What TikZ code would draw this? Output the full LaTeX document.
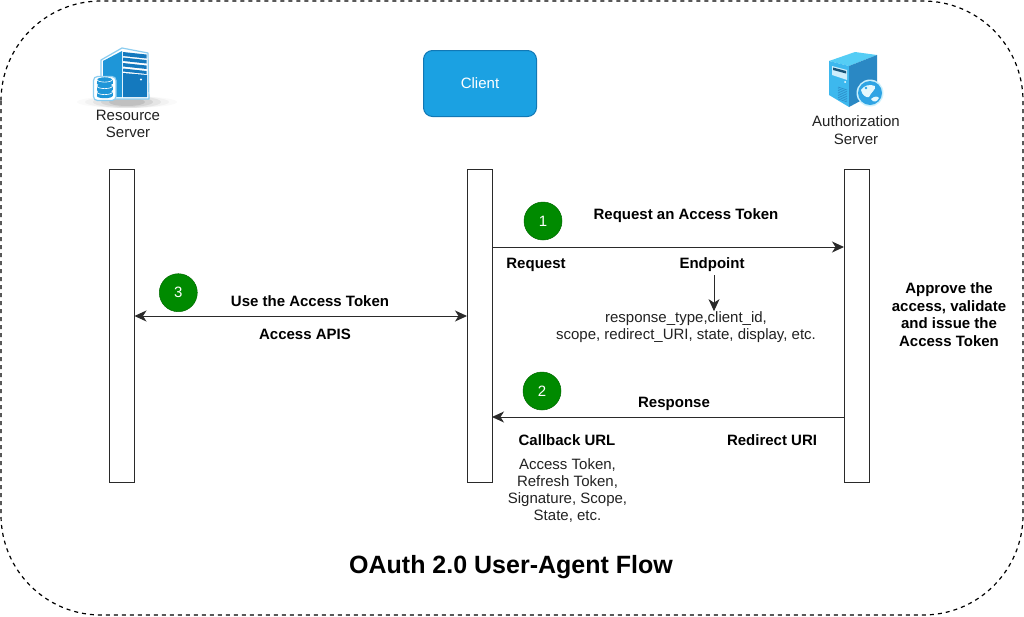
\documentclass[tikz,border=0pt]{standalone}
\usepackage{fontspec}
\setmainfont{Liberation Sans}
\usetikzlibrary{arrows.meta,shadings}
\definecolor{clientblue}{HTML}{1BA1E2}
\definecolor{clientedge}{HTML}{1178B5}
\definecolor{stepgreen}{HTML}{008A00}
\definecolor{stepedge}{HTML}{006A00}
\definecolor{inkgrey}{HTML}{222222}
\definecolor{linegrey}{HTML}{2A2A2A}
\definecolor{srvlight}{HTML}{55CDF5}
\definecolor{srvfront}{HTML}{3DB8EE}
\definecolor{srvdark}{HTML}{2A88C4}
\definecolor{globe}{HTML}{2FA4E4}
\definecolor{resblue}{HTML}{1E96D8}
\definecolor{resdark}{HTML}{1479BE}
\definecolor{resedge}{HTML}{8CCDF0}
\tikzset{
  lifeline/.style={draw=linegrey,line width=1pt,fill=white,minimum width=25pt,minimum height=313pt,inner sep=0pt,outer sep=0pt},
  flow/.style={draw=linegrey,line width=1pt,-{Stealth[length=12pt,width=11pt,inset=3.5pt]}},
  flowboth/.style={draw=linegrey,line width=1pt,{Stealth[length=12pt,width=11pt,inset=3.5pt]}-{Stealth[length=12pt,width=11pt,inset=3.5pt]}},
  stepdot/.style={circle,draw=stepedge,line width=.5pt,fill=stepgreen,minimum size=38pt,inner sep=0pt,text=white,font=\fontsize{15}{17}\selectfont},
  boldlabel/.style={font=\fontsize{15}{17.5}\bfseries\selectfont,text=black,align=center,inner sep=0pt},
  plainlabel/.style={font=\fontsize{15}{17.3}\selectfont,text=inkgrey,align=center,inner sep=0pt},
}
\begin{document}
\begin{tikzpicture}[x=1pt,y=-1pt]
\useasboundingbox (0,0) rectangle (1024,616);
\fill[white] (0,0) rectangle (1024,616);
\draw[black,line width=1.2pt,dash pattern=on 4pt off 4pt,rounded corners=100pt] (1,1) rectangle (1023,615);

% Resource server icon
\begin{scope}
  \foreach \rx/\ry/\op in {50/6/.02,42/6/.03,34/6/.05,26/5/.07,18/4/.09}{
    \fill[black,opacity=\op] (127,102) ellipse [x radius=\rx,y radius=\ry];
  }
  \fill[white] (101,60) -- (122,48) -- (148,53) -- (149,99) -- (101,99) -- cycle;
  \draw[resedge,line width=1.2pt,line join=round] (101,60) -- (122,48) -- (148,53) -- (149,99) -- (101,99) -- cycle;
  \fill[resblue] (103,61) -- (122,51) -- (122,97) -- (103,97) -- cycle;
  \fill[resdark] (123,73) -- (147,75) -- (147,97) -- (123,97) -- cycle;
  \foreach \a/\b in {52/56,57.5/61,63/66.5,68.5/71.5}{
    \fill[resdark] (123,\a) -- (146.5,\a+2.5) -- (146.5,\b+2.5) -- (123,\b) -- cycle;
  }
  \fill[white] (141,79.5) circle (1.2);
  \draw[resedge,line width=1.2pt,rounded corners=4pt,fill=white] (93.5,76.5) rectangle (116,100.5);
  \foreach \yy in {94,88,81.5}{
    \fill[resblue] (97,\yy-2) rectangle (112.5,\yy+2);
    \fill[resblue] (104.7,\yy+2) ellipse [x radius=7.8,y radius=2.2];
    \draw[white,line width=.6pt,fill=resblue] (104.7,\yy-2) ellipse [x radius=7.8,y radius=2.6];
  }
\end{scope}
\node[plainlabel] (resname) at (128,124) {Resource\\Server};

% Client
\node[draw=clientedge,line width=1pt,fill=clientblue,rounded corners=9pt,minimum width=113pt,minimum height=66pt,inner sep=0pt,text=white,font=\fontsize{15}{17}\selectfont] (client) at (480,83.5) {Client};

% Authorization server icon
\begin{scope}
  \fill[srvlight] (829,61) -- (855,52) -- (877,55) -- (849,66) -- cycle;
  \fill[srvfront] (829,61) -- (849,66) -- (849,107) -- (829,95) -- cycle;
  \fill[srvdark] (849,66) -- (877,55) -- (877,92) -- (849,107) -- cycle;
  \fill[white!75!srvfront] (832,66) -- (847,70) -- (847,80) -- (832,75) -- cycle;
  \fill[srvdark!60!black] (833,67.5) -- (846,71) -- (846,73.5) -- (833,70) -- cycle;
  \foreach \i in {0,1,2,3,4,5,6,7}{
    \draw[srvdark,line width=.5pt] (838,87+\i*1.7) -- (847,90+\i*1.7);
  }
  \fill[white] (845,82) circle (1);
  \fill[white!70!srvlight] (870,93) circle (13.5);
  \fill[globe] (870,93) circle (12);
  \fill[white!85!srvlight] (861,90) .. controls (864,85) and (870,84) .. (875,86) .. controls (876,90) and (871,92) .. (869,97) .. controls (866,98) and (862,95) .. (861,90) -- cycle;
  \fill[globe] (866,88) circle (1.4);
  \fill[white!85!srvlight] (871,99) .. controls (874,96) and (878,96) .. (879,98) .. controls (877,102) and (873,103) .. (871,99) -- cycle;
\end{scope}
\node[plainlabel] (authname) at (856,130) {Authorization\\Server};

% Lifelines
\node[lifeline] (resline) at (122,325.5) {};
\node[lifeline] (clientline) at (479.5,325.5) {};
\node[lifeline] (authline) at (856.5,325.5) {};

% Connectors
\draw[flow] (clientline.east |- 0,247) -- (authline.west |- 0,247);
\draw[flow] (authline.west |- 0,417) -- (clientline.east |- 0,417);
\draw[flowboth] (resline.east |- 0,316) -- (clientline.west |- 0,316);

% Step circles
\node[stepdot] (one) at (543,221) {1};
\node[stepdot] (two) at (542,391) {2};
\node[stepdot] (three) at (178.3,292.7) {3};

% Labels
\node[boldlabel] (reqtoken) at (686,215.5) {Request an Access Token};
\node[boldlabel] (request) at (536,265) {Request};
\node[boldlabel] (endpoint) at (712,265) {Endpoint};
\node[plainlabel] (params) at (686,327) {response\_type,client\_id,\\scope, redirect\_URI, state, display, etc.};
\draw[flow] (endpoint.south -| 714,0) ++(0,3) coordinate (epstart) (epstart) -- (params.north -| epstart);
\node[boldlabel] (usetoken) at (310,301.5) {Use the Access Token};
\node[boldlabel] (apis) at (305,334) {Access APIS};
\node[boldlabel] (approve) at (949,314.5) {Approve the\\access, validate\\and issue the\\Access Token};
\node[boldlabel] (response) at (674,403.5) {Response};
\node[boldlabel] (callback) at (567,440.5) {Callback URL};
\node[boldlabel] (redirect) at (772,440.5) {Redirect URI};
\node[plainlabel] (tokens) at (567.5,490.5) {Access Token,\\Refresh Token,\\Signature, Scope,\\State, etc.};
\node[font=\fontsize{25}{29}\bfseries\selectfont,text=black,inner sep=0pt] (title) at (511,567) {OAuth 2.0 User-Agent Flow};
\end{tikzpicture}
\end{document}
